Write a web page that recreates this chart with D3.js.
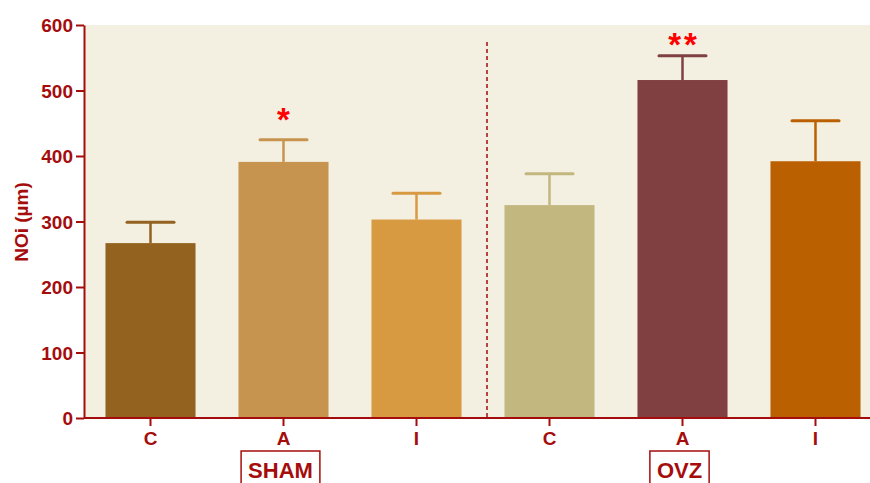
<!DOCTYPE html>
<html><head><meta charset="utf-8">
<script src="https://cdn.jsdelivr.net/npm/d3@7"></script>
<style>body{margin:0;background:#fff}svg{display:block}</style>
</head><body>
<svg id="c" width="870" height="483"></svg>
<script>
const categories = ["C","A","I","C","A","I"];
const groups = ["SHAM","OVZ"];
const means = [267, 391, 303, 325, 516, 392];
const errors = [32, 34, 40, 48, 37, 62];
const colors = ["#93621F","#C6944F","#D89A40","#C2B77E","#804042","#BB6000"];
const stars = ["", "*", "", "", "**", ""];
const starLevel = [0, 456, 0, 0, 571, 0];
const yTicks = [0,100,200,300,400,500,600];

(function(){
const axisColor = "#A50D0D";
const font = "Liberation Sans, Arial, sans-serif";
const svg = d3.select("#c");
const mLeft = 84, mTop = 25, mBottom = 418, mRight = 870;
const x = d3.scaleBand().domain(d3.range(categories.length)).range([mLeft, mLeft + 133*6]).paddingInner(0.323).paddingOuter(0.1615);
const y = d3.scaleLinear().domain([0,600]).range([mBottom, mTop]);

svg.append("rect").attr("x", mLeft).attr("y", mTop).attr("width", mRight-mLeft).attr("height", mBottom-mTop).attr("fill", "#F3EFE1");

svg.selectAll(".bar").data(means).join("rect")
  .attr("x", (d,i)=>x(i)).attr("y", d=>y(d)).attr("width", x.bandwidth()).attr("height", d=>y(0)-y(d))
  .attr("fill", (d,i)=>colors[i]);

const eb = svg.selectAll(".eb").data(means).join("g");
eb.append("line").attr("x1",(d,i)=>x(i)+x.bandwidth()/2).attr("x2",(d,i)=>x(i)+x.bandwidth()/2)
  .attr("y1", d=>y(d)).attr("y2",(d,i)=>y(d+errors[i])).attr("stroke",(d,i)=>colors[i]).attr("stroke-width",2.5);
eb.append("line").attr("x1",(d,i)=>x(i)+x.bandwidth()/2-23.5).attr("x2",(d,i)=>x(i)+x.bandwidth()/2+23.5)
  .attr("y1",(d,i)=>y(d+errors[i])).attr("y2",(d,i)=>y(d+errors[i])).attr("stroke",(d,i)=>colors[i]).attr("stroke-width",3).attr("stroke-linecap","round");

svg.selectAll(".star").data(stars).join("text")
  .attr("x",(d,i)=>x(i)+x.bandwidth()/2 + (d.length>1 ? 1.5 : 0)).attr("y",(d,i)=>y(starLevel[i])+12)
  .attr("text-anchor","middle").attr("font-family",font).attr("font-weight","bold")
  .attr("letter-spacing", d=>d.length>1 ? 3 : 0)
  .attr("font-size",33).attr("fill","#FF0000").text(d=>d);

const midX = (x(2)+x.bandwidth()+x(3))/2 + 4;
svg.append("line").attr("x1",midX).attr("x2",midX).attr("y1",y(574)).attr("y2",mBottom)
  .attr("stroke",axisColor).attr("stroke-width",1.5).attr("stroke-dasharray","4,3");

const yAxis = svg.append("g").attr("transform",`translate(${mLeft},0)`)
  .call(d3.axisLeft(y).tickValues(yTicks).tickSize(8).tickPadding(3).tickSizeOuter(0));
yAxis.select(".domain").attr("stroke",axisColor).attr("stroke-width",2);
yAxis.selectAll(".tick line").attr("stroke",axisColor).attr("stroke-width",2);
yAxis.selectAll(".tick text").attr("fill",axisColor).attr("font-family",font)
  .attr("font-weight","bold").attr("font-size",19).attr("dy","0.36em");

const xAxis = svg.append("g").attr("transform",`translate(0,${mBottom})`)
  .call(d3.axisBottom(x).tickFormat(i=>categories[i]).tickSize(8).tickPadding(6).tickSizeOuter(0));
xAxis.select(".domain").attr("stroke",axisColor).attr("stroke-width",2).attr("d",`M${mLeft},0H${mRight}`);
xAxis.selectAll(".tick line").attr("stroke",axisColor).attr("stroke-width",2);
xAxis.selectAll(".tick text").attr("fill",axisColor).attr("font-family",font)
  .attr("font-weight","bold").attr("font-size",19);

svg.append("text").attr("transform","translate(28,222) rotate(-90)").attr("text-anchor","middle")
  .attr("fill",axisColor).attr("font-family",font).attr("font-weight","bold")
  .attr("font-size",19).text("NOi (µm)");

groups.forEach((g,k)=>{
  const cx = x(1+3*k)+x.bandwidth()/2 - 3;
  const t = svg.append("text").attr("x",cx).attr("y",478).attr("text-anchor","middle")
    .attr("fill",axisColor).attr("font-family",font).attr("font-weight","bold")
    .attr("font-size",22).text(g);
  const bb = t.node().getBBox();
  svg.append("rect").attr("x",bb.x-7).attr("y",451).attr("width",bb.width+14).attr("height",40)
    .attr("fill","none").attr("stroke",axisColor).attr("stroke-width",1.5);
});
})();
</script>
</body></html>
